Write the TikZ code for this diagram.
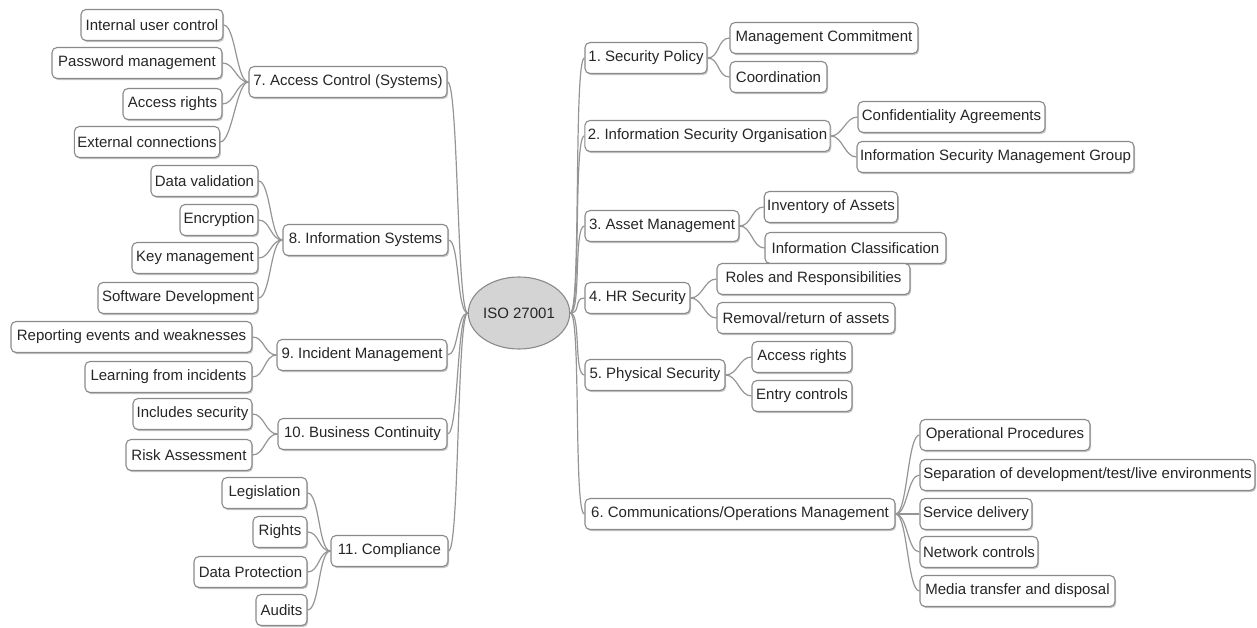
\documentclass[tikz,border=0pt]{standalone}
\usepackage{fontspec}
\setmainfont{Liberation Sans}
\usetikzlibrary{shadows,shapes.geometric}
\definecolor{boxline}{HTML}{8A8A8A}
\definecolor{linkc}{HTML}{959595}
\definecolor{txt}{HTML}{262626}
\definecolor{rootfill}{HTML}{D4D4D4}
\frenchspacing
\begin{document}
\begin{tikzpicture}[x=1pt,y=-1pt,
  box/.style={draw=boxline, line width=1.1pt, rounded corners=5pt, fill=white,
    minimum height=31pt, inner xsep=3pt, inner ysep=0pt,
    font=\fontsize{15}{17}\selectfont, text=txt,
    drop shadow={shadow xshift=1.2pt, shadow yshift=-1.6pt, fill=black!45, opacity=0.5}},
  rootnode/.style={ellipse, draw=boxline, line width=1.1pt, fill=rootfill,
    minimum width=92pt, minimum height=72pt, inner sep=0pt,
    font=\fontsize{15}{17}\selectfont, text=txt},
  link/.style={draw=linkc, line width=1.2pt}]
\useasboundingbox (0,0) rectangle (1257,628);

% root
\node[rootnode] (root) at (519,313) {ISO 27001};

% left main branches
\node[box, minimum width=198pt] (ac) at (348,82) {7. Access Control (Systems)};
\node[box, minimum width=165pt] (is) at (365.5,240) {8. Information Systems};
\node[box, minimum width=170pt] (im) at (362,355) {9. Incident Management};
\node[box, minimum width=169pt] (bc) at (362.5,434) {10. Business Continuity};
\node[box, minimum width=117pt] (cp) at (389.5,551) {11. Compliance};

% left leaves
\node[box, minimum width=142pt] (iuc) at (152,25) {Internal user control};
\node[box, minimum width=170pt] (pwd) at (137,63) {Password management};
\node[box, minimum width=99pt] (lar) at (172.5,104) {Access rights};
\node[box, minimum width=144pt] (ec) at (147,142) {External connections};

\node[box, minimum width=107pt] (dv) at (204.5,181) {Data validation};
\node[box, minimum width=78pt] (enc) at (219,220) {Encryption};
\node[box, minimum width=126pt] (km) at (195,258) {Key management};
\node[box, minimum width=160pt] (sd) at (178,298) {Software Development};

\node[box, minimum width=241pt] (rew) at (131.5,337) {Reporting events and weaknesses};
\node[box, minimum width=167pt] (lfi) at (168.5,377) {Learning from incidents};

\node[box, minimum width=119pt] (ins) at (192.5,414) {Includes security};
\node[box, minimum width=126pt] (ra) at (189,455) {Risk Assessment};

\node[box, minimum width=85pt] (leg) at (264.5,493) {Legislation};
\node[box, minimum width=54pt] (rig) at (280,532) {Rights};
\node[box, minimum width=113pt] (dp) at (250.5,572) {Data Protection};
\node[box, minimum width=51pt] (aud) at (281.5,610) {Audits};

% right main branches
\node[box, minimum width=122pt] (sp) at (646,58) {1. Security Policy};
\node[box, minimum width=245pt] (iso) at (707.5,136) {2. Information Security Organisation};
\node[box, minimum width=154pt] (am) at (662,226) {3. Asset Management};
\node[box, minimum width=105pt] (hr) at (637.5,298) {4. HR Security};
\node[box, minimum width=140pt] (ps) at (655,375) {5. Physical Security};
\node[box, minimum width=310pt] (com) at (740,514) {6. Communications/Operations Management};

% right leaves
\node[box, minimum width=188pt] (mc) at (824,38) {Management Commitment};
\node[box, minimum width=97pt] (co) at (778.5,77) {Coordination};
\node[box, minimum width=187pt] (ca) at (951.5,117) {Confidentiality Agreements};
\node[box, minimum width=275pt] (ismg) at (995.5,157) {Information Security Management Group};
\node[box, minimum width=132pt] (ioa) at (831,207) {Inventory of Assets};
\node[box, minimum width=181pt] (icl) at (855.5,248) {Information Classification};
\node[box, minimum width=193pt] (rr) at (813.5,279) {Roles and Responsibilities};
\node[box, minimum width=178pt] (rra) at (806,318) {Removal/return of assets};
\node[box, minimum width=100pt] (par) at (802,357) {Access rights};
\node[box, minimum width=100pt] (entc) at (802,396) {Entry controls};
\node[box, minimum width=170pt] (op) at (1005,435) {Operational Procedures};
\node[box, minimum width=335pt] (sep) at (1087.5,475) {Separation of development/test/live environments};
\node[box, minimum width=112pt] (sdl) at (976,514) {Service delivery};
\node[box, minimum width=118pt] (nc) at (979,552) {Network controls};
\node[box, minimum width=195pt] (mt) at (1017.5,591) {Media transfer and disposal};

% connectors: root to main branches
\foreach \b in {sp,iso,am,hr,ps,com}
  \draw[link] (root.east) .. controls +(11,0) and +(-11,0) .. (\b.west);
\foreach \b in {ac,is,im,bc,cp}
  \draw[link] (root.west) .. controls +(-11,0) and +(11,0) .. (\b.east);

% right children
\foreach \p/\c in {sp/mc,sp/co,iso/ca,iso/ismg,am/ioa,am/icl,hr/rr,hr/rra,ps/par,ps/entc,com/op,com/sep,com/sdl,com/nc,com/mt}
  \draw[link] (\p.east) .. controls +(12,0) and +(-12,0) .. (\c.west);

% left children
\foreach \p/\c in {ac/iuc,ac/pwd,ac/lar,ac/ec,is/dv,is/enc,is/km,is/sd,im/rew,im/lfi,bc/ins,bc/ra,cp/leg,cp/rig,cp/dp,cp/aud}
  \draw[link] (\p.west) .. controls +(-12,0) and +(12,0) .. (\c.east);
\end{tikzpicture}
\end{document}
